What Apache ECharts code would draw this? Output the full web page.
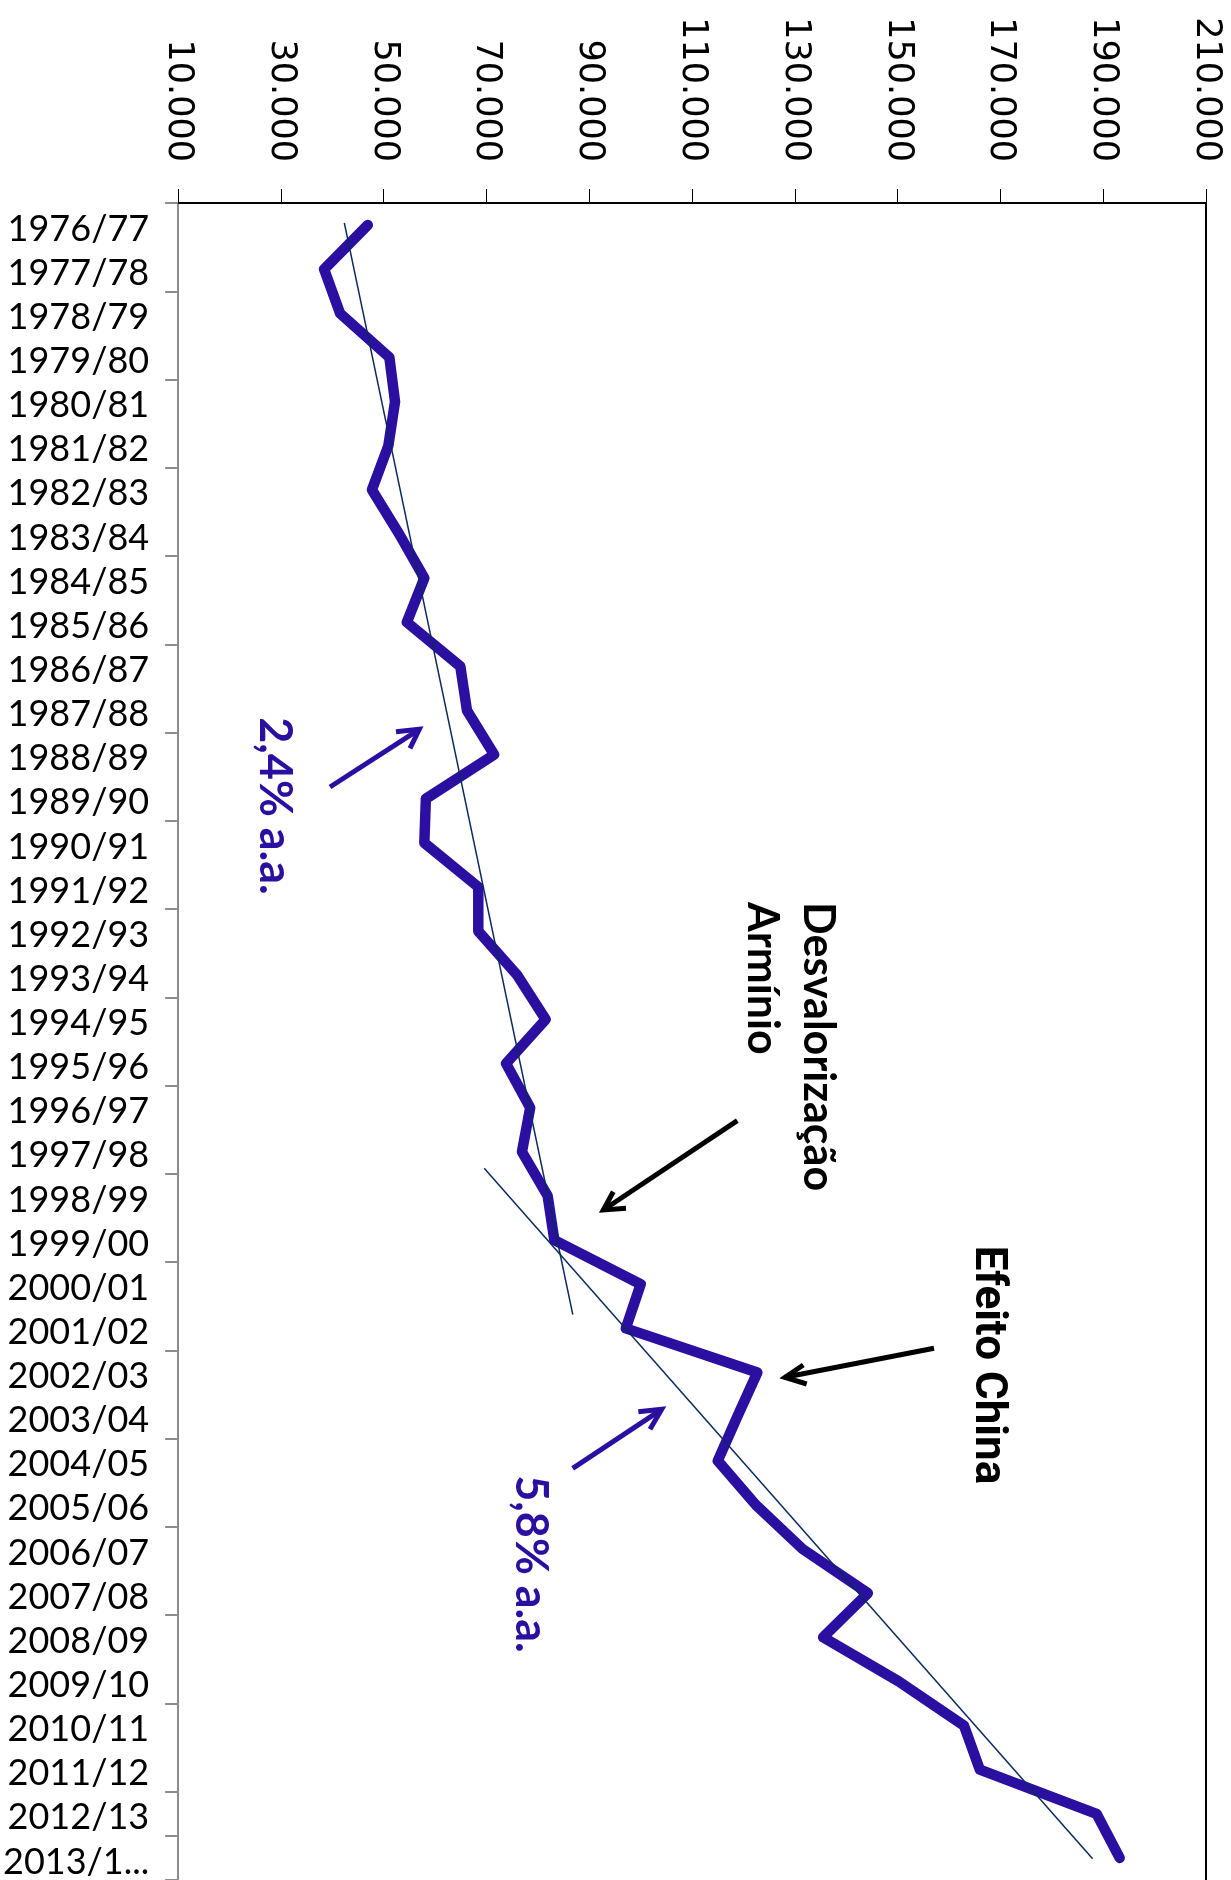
<!DOCTYPE html>
<html>
<head>
<meta charset="utf-8">
<script src="https://cdn.jsdelivr.net/npm/echarts@6/dist/echarts.min.js"></script>
<style>html,body{margin:0;padding:0;background:#fff}#c{width:1231px;height:1880px}</style>
</head>
<body>
<div id="c"></div>
<script>
const categories = ['1976/77','1977/78','1978/79','1979/80','1980/81','1981/82','1982/83','1983/84','1984/85','1985/86',
  '1986/87','1987/88','1988/89','1989/90','1990/91','1991/92','1992/93','1993/94','1994/95','1995/96',
  '1996/97','1997/98','1998/99','1999/00','2000/01','2001/02','2002/03','2003/04','2004/05','2005/06',
  '2006/07','2007/08','2008/09','2009/10','2010/11','2011/12','2012/13','2013/14'];
const production = [46900,38400,41500,51100,52200,50900,47700,53000,57900,54500,
  64900,66200,71500,58200,57900,68400,68400,76000,81500,73800,
  78500,76900,81900,83200,100000,97100,122700,118800,115000,122400,
  131500,144200,135500,150200,162900,166000,188700,193200];
// trend lines: [value, category position]
const trend1 = [[42330,-0.05],[86790,24.69]];
const trend2 = [[69550,21.37],[187940,37.02]];
const valueTicks = [10000,30000,50000,70000,90000,110000,130000,150000,170000,190000,210000];

const fmt = v => String(v).replace(/\B(?=(\d{3})+(?!\d))/g, '.');
const purple = '#2B0FA0';
const chart = echarts.init(document.getElementById('c'));
function arrow(tail, tip, a1, a2, color) {
  return [
    {type:'line', shape:{x1:tail[0],y1:tail[1],x2:tip[0],y2:tip[1]}, style:{stroke:color,lineWidth:5}},
    {type:'polyline', shape:{points:[a1,tip,a2]}, style:{stroke:color,lineWidth:5,fill:null}}
  ];
}
chart.setOption({
  backgroundColor:'#fff',
  animation:false,
  grid:{left:177,right:25,top:203,bottom:-6,containLabel:false},
  xAxis:[{
    type:'value', position:'top', min:10000, max:210000, interval:20000,
    axisLine:{show:true,onZero:false,lineStyle:{color:'#000',width:2}},
    axisTick:{show:true,inside:false,length:14,lineStyle:{color:'#000',width:1},customValues:valueTicks},
    axisLabel:{rotate:90,margin:41,fontFamily:'DejaVu Sans',fontSize:35,color:'#000',formatter:fmt,customValues:valueTicks},
    splitLine:{show:false}
  }],
  yAxis:[{
    type:'category', data:categories, inverse:true, position:'left', boundaryGap:true,
    axisLine:{show:true,onZero:false,lineStyle:{color:'#8c8c8c',width:2}},
    axisTick:{show:true,inside:false,length:13,interval:1,lineStyle:{color:'#8c8c8c',width:2}},
    axisLabel:{interval:0,margin:29,fontFamily:'Lato',fontSize:36,color:'#000',verticalAlign:'top',lineHeight:8,
      formatter:(v,i)=> i===categories.length-1 ? '2013/1...' : v},
    splitLine:{show:false}
  },{
    type:'value', min:-0.5, max:37.5, inverse:true, position:'right',
    axisLine:{show:true,onZero:false,lineStyle:{color:'#000',width:2}},
    axisTick:{show:false}, axisLabel:{show:false}, splitLine:{show:false}
  }],
  series:[
    {type:'line', xAxisIndex:0, yAxisIndex:0, data:production, symbol:'none',
     lineStyle:{color:purple,width:10.5,cap:'round',join:'round'}, z:3},
    {type:'line', xAxisIndex:0, yAxisIndex:1, data:trend1, symbol:'none',
     lineStyle:{color:'#0A2A5E',width:1.5}, z:4},
    {type:'line', xAxisIndex:0, yAxisIndex:1, data:trend2, symbol:'none',
     lineStyle:{color:'#0A2A5E',width:1.5}, z:4}
  ],
  graphic:[
    {type:'text', x:275, y:806, rotation:-Math.PI/2,
     style:{text:'2,4% a.a.', font:'bold 45px Lato', fill:purple, align:'center', verticalAlign:'middle'}},
    {type:'text', x:531, y:1564, rotation:-Math.PI/2,
     style:{text:'5,8% a.a.', font:'bold 45px Lato', fill:purple, align:'center', verticalAlign:'middle'}},
    {type:'text', x:790, y:902, rotation:-Math.PI/2,
     style:{text:'Desvalorização\nArmínio', font:'bold 43px Lato', lineHeight:56, fill:'#000', align:'left', verticalAlign:'middle'}},
    {type:'text', x:987, y:1365, rotation:-Math.PI/2,
     style:{text:'Efeito China', font:'bold 44px Roboto', fill:'#000', align:'center', verticalAlign:'middle'}},
    ...arrow([330,787],[419.3,729.3],[396,731.7],[410,748.3],purple),
    ...arrow([572.7,1468.3],[661.7,1409.3],[638.3,1411.7],[650,1429.3],purple),
    ...arrow([737.3,1120.7],[603.3,1210],[613.3,1191.7],[626,1208.3],'#000'),
    ...arrow([934,1348.3],[785,1377.3],[803.3,1365],[806.7,1384],'#000')
  ]
});
</script>
</body>
</html>
